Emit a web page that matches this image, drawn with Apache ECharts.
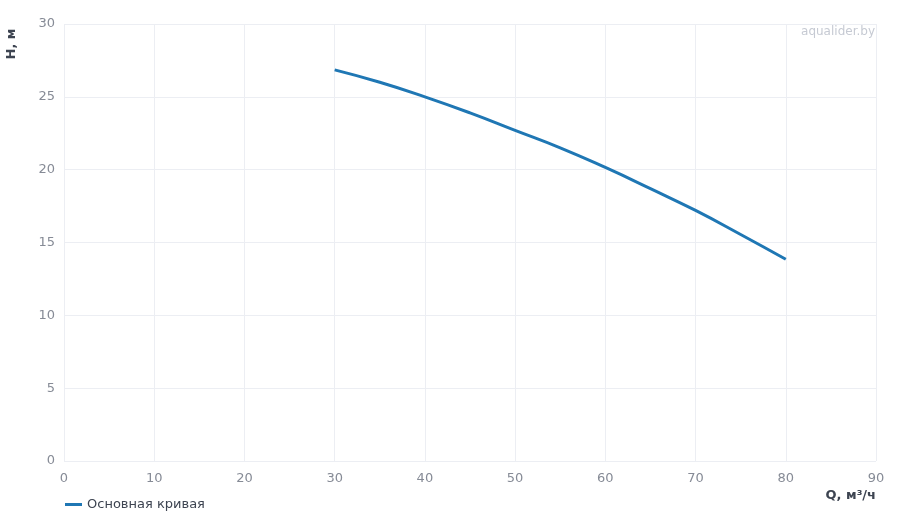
<!DOCTYPE html>
<html>
<head>
<meta charset="utf-8">
<script src="https://cdn.jsdelivr.net/npm/echarts@6/dist/echarts.min.js"></script>
<style>
html, body { margin: 0; padding: 0; background: #fff; }
#main { width: 900px; height: 520px; }
</style>
</head>
<body>
<div id="main"></div>
<script>
var flow = [30, 35, 40, 45, 50, 55, 60, 65, 70, 75, 80];
var head = [26.85, 26.0, 25.0, 23.9, 22.7, 21.5, 20.15, 18.7, 17.2, 15.55, 13.85];
var seriesName = 'Основная кривая';

var myChart = echarts.init(document.getElementById('main'));
var font = 'DejaVu Sans';
var option = {
    textStyle: { fontFamily: font },
    grid: { left: 64, right: 24, top: 24, bottom: 59 },
    legend: {
        data: [seriesName],
        left: 60,
        bottom: 4,
        icon: 'rect',
        itemWidth: 17,
        itemHeight: 3,
        itemGap: 6,
        textStyle: { color: '#3d4451', fontSize: 13, fontFamily: font }
    },
    xAxis: {
        type: 'value',
        min: 0, max: 90, interval: 10,
        axisLine: { show: false },
        axisTick: { show: false },
        axisLabel: { color: '#868b96', fontSize: 13, margin: 11, fontFamily: font },
        splitLine: { lineStyle: { color: '#eceef3' } }
    },
    yAxis: {
        type: 'value',
        min: 0, max: 30, interval: 5,
        axisLine: { show: false },
        axisTick: { show: false },
        axisLabel: { color: '#868b96', fontSize: 13, margin: 9, fontFamily: font },
        splitLine: { lineStyle: { color: '#eceef3' } }
    },
    graphic: [
        {
            type: 'text', x: 12, y: 44, rotation: Math.PI / 2,
            style: { text: 'H, м', fill: '#3d4451', font: 'bold 13px "DejaVu Sans"', align: 'center', verticalAlign: 'middle' }
        },
        {
            type: 'text', x: 876, y: 496,
            style: { text: 'Q, м³/ч', fill: '#3d4451', font: 'bold 13px "DejaVu Sans"', align: 'right', verticalAlign: 'middle' }
        },
        {
            type: 'text', x: 875, y: 32,
            style: { text: 'aqualider.by', fill: '#c6cad3', font: '12px "DejaVu Sans"', align: 'right', verticalAlign: 'middle' }
        }
    ],
    series: [{
        name: seriesName,
        type: 'line',
        smooth: true,
        showSymbol: false,
        lineStyle: { color: '#1f77b4', width: 3 },
        itemStyle: { color: '#1f77b4' },
        data: flow.map(function (q, i) { return [q, head[i]]; })
    }]
};
myChart.setOption(option);
</script>
</body>
</html>
